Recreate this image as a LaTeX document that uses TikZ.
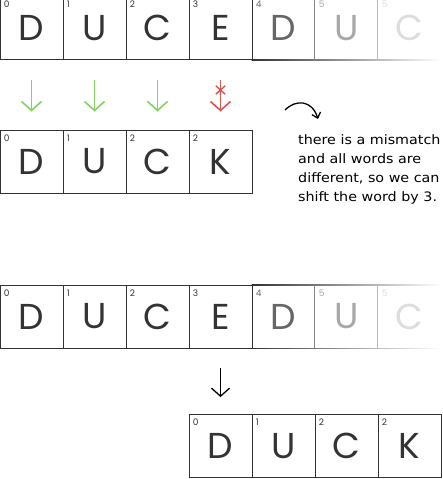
\documentclass[tikz,border=0pt]{standalone}
\usepackage{fontspec}
\setmainfont{Poppins}
\newfontfamily\notefont[FakeStretch=1.1]{DejaVu Sans}
\usetikzlibrary{arrows.meta,shapes.misc}
\definecolor{ink}{HTML}{333333}
\definecolor{fadeA}{HTML}{666666}
\definecolor{fadeB}{HTML}{A8A8A8}
\definecolor{fadeC}{HTML}{DDDDDD}
\definecolor{okgreen}{HTML}{82D45E}
\definecolor{badred}{HTML}{D9534F}

\begin{document}
\begin{tikzpicture}[x=1pt,y=-1pt,
    cell/.style={draw=ink,line width=0.9pt,minimum size=63pt,inner sep=0,text=ink,font=\fontsize{36}{36}\selectfont},
    idx/.style={anchor=north west,inner sep=0,text=ink,font=\fontsize{9}{9}\selectfont},
    shiftarrow/.style={line width=1.6pt,-{Straight Barb[length=9pt,width=20pt]}}]
    \pgfmathsetmacro{\cellsize}{63}
    \pgfmathsetmacro{\toprow}{28}
    \pgfmathsetmacro{\duckrow}{161.5}
    \pgfmathsetmacro{\thirdrow}{316.5}
    \pgfmathsetmacro{\lastrow}{446}
    \useasboundingbox (0,0) rectangle (442,479);
    % text DUCEDUC, twice
    \foreach \r/\y in {t/\toprow,s/\thirdrow}{
    \foreach \ch/\i/\n in {D/0/0,U/1/1,C/2/2,E/3/3}{
        \node[cell] (\r\i) at (31.5+\cellsize*\i,\y) {\ch};
        \node[idx] (\r\i n) at ([xshift=4pt,yshift=-5pt]\r\i.north west) {\n};
    }
    \foreach \ch/\i/\n/\col in {D/4/4/fadeA,U/5/5/fadeB,C/6/5/fadeC}{
        \node[cell,draw=none,text=\col] (\r\i) at (31.5+\cellsize*\i,\y) {\ch};
        \node[idx,text=\col] (\r\i n) at ([xshift=4pt,yshift=-5pt]\r\i.north west) {\n};
    }
    \shade[left color=ink,right color=white] ([yshift=0.45pt]\r4.north west) rectangle ([yshift=-0.45pt]\r6.north east);
    \shade[left color=ink,right color=white] ([yshift=0.45pt]\r4.south west) rectangle ([yshift=-0.45pt]\r6.south east);
    \draw[line width=0.9pt,draw=fadeA!80] (\r5.north west) -- (\r5.south west);
    \draw[line width=0.9pt,draw=fadeB!80] (\r6.north west) -- (\r6.south west);
    }
    % pattern DUCK
    \foreach \ch/\i/\n in {D/0/0,U/1/1,C/2/2,K/3/2}{
        \node[cell] (m\i) at (31.5+\cellsize*\i,\duckrow) {\ch};
        \node[idx] (m\i n) at ([xshift=4pt,yshift=-5pt]m\i.north west) {\n};
        \node[cell] (b\i) at (220.5+\cellsize*\i,\lastrow) {\ch};
        \node[idx] (b\i n) at ([xshift=4pt,yshift=-5pt]b\i.north west) {\n};
    }
    \foreach \i in {0,1,2}
        \draw[shiftarrow,okgreen] ([yshift=-20.5pt]t\i.south) -- ([yshift=18pt]m\i.north);
    \draw[shiftarrow,badred] ([yshift=-20.5pt]t3.south) -- ([yshift=18pt]m3.north);
    \node[cross out,draw=badred,line width=1.4pt,minimum width=8pt,minimum height=7pt,inner sep=0] (miss) at (220.5,90) {};
    % note
    \coordinate (bendA) at (285,110);
    \coordinate (bendB) at (318,119);
    \draw[line width=1.3pt,-{Straight Barb[length=5pt,width=9pt]}] (bendA) .. controls (296,99) and (312,100) .. (bendB);
    \node[anchor=north west,align=left,inner sep=0,font=\notefont\fontsize{13}{19.3}\selectfont] (note) at (298,134)
    {there is a mismatch\\and all words are\\different, so we can\\shift the word by 3.};
    \draw[line width=1.3pt,-{Straight Barb[length=8pt,width=18pt]}] ([yshift=-20pt]s3.south) -- ([yshift=17pt]b0.north);
\end{tikzpicture}
\end{document}
